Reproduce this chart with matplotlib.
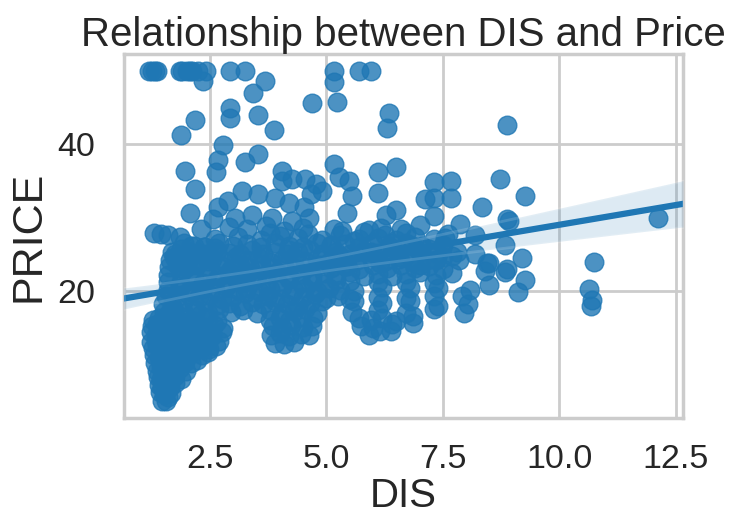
import numpy as np
import matplotlib
matplotlib.use("Agg")
import matplotlib.pyplot as plt

# ---- data: weighted distance to employment centres (DIS) vs. median price ----
# tracts at the 50.0 price cap
dis_capped = [1.20, 1.25, 1.32, 1.37, 1.85, 1.90, 2.00, 2.07, 2.12, 2.25, 2.42,
              2.93, 3.25, 5.16, 5.70, 5.95]
price_capped = [50.0] * 16

# low-distance, low-price tracts
dis_inner = [1.47, 1.55, 1.60,
             1.43, 1.51, 1.58, 1.66,
             1.40, 1.48, 1.57, 1.65, 1.75,
             1.38, 1.46, 1.55, 1.64, 1.75, 1.87,
             1.36, 1.44, 1.53, 1.62, 1.72, 1.85, 1.99,
             1.33, 1.42, 1.50, 1.60, 1.70, 1.82, 1.96, 2.10, 2.22,
             1.30, 1.40, 1.50, 1.60, 1.72, 1.85, 2.00, 2.15, 2.32, 2.45,
             1.27, 1.37, 1.48, 1.58, 1.70, 1.84, 1.98, 2.14, 2.30, 2.48, 2.62,
             1.24, 1.35, 1.46, 1.58, 1.70, 1.84, 2.00, 2.16, 2.34, 2.52, 2.70,
             1.23, 1.34, 1.46, 1.58, 1.72, 1.86, 2.02, 2.18, 2.36, 2.55, 2.75,
             1.25, 1.36, 1.48, 1.60, 1.74, 1.88, 2.04, 2.20, 2.38, 2.58, 2.78,
             1.28, 1.40, 1.52, 1.66, 1.80, 1.95, 2.10, 2.28, 2.46, 2.65,
             1.52, 1.62, 1.70, 1.58, 1.92, 1.66, 1.90, 2.20, 1.64, 1.92]
price_inner = [5.0, 5.0, 5.6,
               6.3, 6.0, 6.6, 6.2,
               7.2, 7.0, 7.4, 7.0, 7.5,
               8.3, 8.0, 8.5, 8.1, 8.4, 8.0,
               9.1, 9.5, 8.8, 9.3, 9.0, 9.6, 9.2,
               10.2, 10.5, 10.0, 10.4, 10.2, 10.8, 10.4, 10.2, 10.6,
               11.3, 11.0, 11.7, 11.3, 11.0, 11.5, 11.2, 11.8, 11.3, 11.7,
               12.3, 12.7, 12.0, 12.5, 12.1, 12.6, 12.2, 12.7, 12.3, 12.1, 12.6,
               13.1, 13.4, 13.0, 13.6, 13.2, 13.8, 13.1, 13.5, 13.3, 13.8, 13.2,
               14.4, 14.1, 14.6, 14.0, 14.5, 14.2, 14.8, 14.3, 14.6, 14.1, 14.5,
               15.2, 15.6, 15.1, 15.4, 15.0, 15.6, 15.2, 15.7, 15.1, 15.4, 15.0,
               16.1, 16.4, 16.0, 16.6, 16.2, 16.5, 16.1, 16.7, 16.3, 16.0,
               7.8, 8.8, 9.6, 10.9, 11.0, 12.3, 12.0, 12.4, 13.0, 13.5]

# low-distance tracts in the mid-price range
dis_inner_mid = [1.72, 1.88, 2.02, 2.15, 2.30, 2.45, 1.80, 1.95, 2.08, 2.22, 2.38,
                 2.50, 1.68, 2.60, 2.00]
price_inner_mid = [24.6, 25.8, 24.3, 26.2, 25.0, 24.1, 23.6, 26.5, 25.4, 23.9,
                   26.0, 24.8, 25.4, 25.9, 23.3]

# mid-distance low-price pockets
dis_pockets = [3.90, 4.10, 4.30, 3.82, 4.00, 4.20, 4.45, 4.62, 3.85, 4.05, 4.25,
               4.50, 4.70, 3.80, 4.00, 4.20, 4.45, 4.72,
               5.92, 6.15, 6.39, 5.75, 6.00, 6.40, 6.85, 5.70, 5.95, 6.20, 6.50,
               6.85]
price_pockets = [13.0, 12.8, 13.1, 14.0, 14.3, 13.9, 14.2, 14.1, 15.2, 15.0, 15.4,
                 15.1, 15.3, 16.1, 16.4, 16.0, 16.5, 16.4,
                 14.1, 14.6, 14.6, 15.2, 15.0, 15.5, 15.7, 16.4, 16.1, 16.3, 16.0,
                 16.6]

# main band of tracts, prices roughly 17 to 28
dis_core = [
    1.52, 1.62, 1.72, 1.95, 2.20, 2.45, 2.70, 2.95, 3.20, 3.50, 3.80, 4.05, 4.30,
    4.55, 4.80, 5.55, 6.10, 6.70, 7.30, 7.95,
    1.50, 1.68, 1.92, 2.16, 2.40, 2.65, 2.90, 3.15, 3.40, 3.65, 3.90, 4.15, 4.40,
    4.65, 4.90, 5.60, 6.20, 6.80, 7.40, 8.05, 10.67,
    1.55, 1.78, 2.02, 2.26, 2.50, 2.75, 3.00, 3.25, 3.50, 3.75, 4.00, 4.25, 4.50,
    4.75, 5.00, 5.25, 5.50, 6.10, 6.70, 7.30, 7.90, 10.70,
    1.60, 1.85, 2.10, 2.35, 2.60, 2.85, 3.10, 3.30, 3.55, 3.80, 4.05, 4.30, 4.55,
    4.80, 5.05, 5.30, 5.60, 6.20, 6.80, 7.40, 8.08, 9.12, 10.63,
    1.60, 1.85, 2.10, 2.35, 2.60, 2.86, 3.05, 3.25, 3.45, 3.70, 3.95, 4.20, 4.45,
    4.70, 4.95, 5.20, 5.50, 6.10, 6.70, 7.30, 8.50, 9.27,
    1.60, 1.88, 2.16, 2.44, 2.70, 2.92, 3.12, 3.32, 3.52, 3.72, 3.95, 4.20, 4.45,
    4.70, 4.95, 5.20, 5.50, 5.80, 6.10, 6.40, 6.70, 7.00, 7.35, 7.70, 8.40, 8.83,
    1.62, 1.92, 2.22, 2.50, 2.75, 2.95, 3.15, 3.35, 3.60, 3.85, 4.10, 4.35, 4.60,
    4.85, 5.10, 5.40, 5.70, 6.00, 6.30, 6.60, 6.90, 7.20, 7.50, 8.45, 8.87,
    1.65, 1.95, 2.25, 2.55, 2.80, 3.05, 3.30, 3.55, 3.80, 4.05, 4.30, 4.55, 4.80,
    5.05, 5.35, 5.65, 5.95, 6.25, 6.55, 6.85, 7.15, 7.50, 7.85, 8.50, 9.19, 10.74,
    1.75, 2.05, 2.35, 2.65, 2.90, 3.15, 3.40, 3.65, 3.90, 4.15, 4.40, 4.65, 4.90,
    5.20, 5.50, 5.80, 6.10, 6.40, 6.70, 7.00, 7.40, 7.80, 8.20,
    2.10, 2.40, 2.70, 3.00, 3.30, 3.60, 3.90, 4.20, 4.50, 4.80, 5.10, 5.40, 5.70,
    6.00, 6.35, 6.70, 7.05, 7.50, 8.83,
    2.60, 3.10, 3.60, 4.00, 4.40, 4.90, 5.30, 5.70, 6.10, 6.50, 6.90, 7.30,
    5.25, 5.60, 5.95, 6.25, 6.55, 6.85, 7.20, 7.55, 5.45, 6.15, 6.70, 7.00, 7.70,
    5.80, 6.40, 7.35, 5.10, 4.60, 4.20, 3.80]
price_core = [
    17.2, 17.0, 17.5, 17.1, 17.4, 17.0, 17.6, 17.2, 17.5, 17.1, 17.4, 17.0, 17.3,
    17.6, 17.1, 17.2, 17.4, 17.0, 17.6, 17.1,
    18.3, 18.0, 18.5, 18.2, 18.6, 18.1, 18.4, 18.0, 18.5, 18.2, 18.6, 18.3, 18.0,
    18.4, 18.7, 18.6, 18.4, 18.7, 18.0, 18.2, 18.0,
    19.4, 19.1, 19.6, 19.2, 19.5, 19.0, 19.3, 19.7, 19.1, 19.4, 19.0, 19.5, 19.2,
    19.6, 19.1, 19.4, 19.0, 19.2, 19.1, 19.3, 19.4, 18.8,
    20.2, 20.5, 20.0, 20.4, 20.1, 20.6, 20.2, 20.5, 20.0, 20.3, 20.6, 20.1, 20.4,
    20.0, 20.5, 20.2, 20.0, 20.6, 20.5, 20.4, 20.1, 19.9, 20.3,
    21.3, 21.0, 21.5, 21.1, 21.4, 21.0, 21.6, 21.2, 21.5, 21.0, 21.3, 21.6, 21.1,
    21.4, 21.0, 21.5, 21.4, 21.3, 21.2, 21.1, 20.9, 21.5,
    22.2, 22.5, 22.0, 22.4, 22.1, 22.6, 22.2, 22.5, 22.0, 22.3, 22.6, 22.1, 22.4,
    22.0, 22.5, 22.2, 22.6, 22.1, 22.4, 22.0, 22.3, 22.6, 22.2, 22.5, 22.8, 22.6,
    23.3, 23.0, 23.5, 23.1, 23.4, 23.0, 23.6, 23.2, 23.5, 23.1, 23.4, 23.0, 23.3,
    23.6, 23.1, 23.4, 23.0, 23.5, 23.2, 23.6, 23.1, 23.4, 23.0, 23.8, 23.0,
    24.2, 24.5, 24.0, 24.4, 24.1, 24.6, 24.2, 24.5, 24.0, 24.3, 24.6, 24.1, 24.4,
    24.0, 24.5, 24.2, 24.6, 24.1, 24.4, 24.0, 24.3, 24.6, 24.2, 23.8, 24.5, 24.0,
    25.1, 25.4, 25.0, 25.5, 25.2, 25.0, 25.6, 25.1, 25.4, 25.0, 25.3, 25.6, 25.1,
    25.4, 25.0, 25.5, 25.2, 25.6, 25.0, 25.3, 25.1, 25.4, 25.0,
    26.2, 26.0, 26.5, 26.1, 26.4, 26.0, 26.6, 26.2, 26.0, 26.5, 26.1, 26.4, 26.0,
    26.6, 26.2, 26.5, 26.1, 26.3, 26.3,
    27.1, 27.4, 27.0, 27.5, 27.2, 27.0, 27.6, 27.1, 27.3, 27.0, 27.4, 27.1,
    24.9, 26.8, 25.3, 27.6, 24.6, 26.2, 25.7, 27.2, 23.4, 23.8, 27.9, 23.6, 24.8,
    28.0, 26.5, 24.2, 26.3, 27.8, 25.6, 27.9]

# higher-priced tracts scattered above the main band
dis_upper = [2.35, 3.69, 3.43, 4.69, 2.93, 2.93, 3.54, 3.87, 2.17, 1.89, 2.79,
             2.68, 2.64, 3.54, 3.25, 1.96, 2.17, 2.07, 4.05, 4.26, 4.55, 4.77,
             2.57, 4.62, 1.31, 1.45, 1.60, 1.85,
             5.16, 5.23, 6.35, 6.31, 8.87, 5.16, 6.10, 6.49, 4.90, 5.27, 5.49,
             5.56, 6.10, 5.45, 6.49, 6.28, 7.11, 7.32, 7.68, 7.32, 7.68, 7.32,
             8.73, 8.33, 7.86, 8.87, 5.16, 5.33, 5.92, 6.17, 9.27, 8.91, 12.11,
             2.89, 3.18, 3.54, 3.90, 4.19, 4.51, 3.04, 3.40, 3.83, 4.26, 2.68,
             4.66, 4.05, 2.90, 3.30, 3.70, 4.10, 4.50, 6.60, 7.00, 2.30, 8.20,
             7.60]
price_upper = [48.6, 48.6, 47.0, 45.6, 44.9, 43.5, 44.0, 41.9, 43.3, 41.2, 39.9,
               37.8, 36.2, 38.7, 37.6, 36.4, 33.9, 30.7, 36.4, 35.3, 35.3, 34.6,
               29.8, 30.0, 27.9, 27.8, 27.7, 27.4,
               48.4, 45.8, 44.2, 42.2, 42.6, 37.3, 36.2, 36.9, 33.7, 35.5, 35.0,
               33.0, 33.4, 30.7, 31.1, 30.4, 32.5, 34.8, 35.0, 32.7, 32.7, 30.2,
               35.3, 31.4, 29.1, 29.8, 28.4, 28.2, 28.3, 28.6, 33.0, 29.5, 30.0,
               32.3, 33.7, 33.2, 32.7, 32.0, 31.4, 30.0, 30.4, 30.0, 29.5, 31.4,
               33.2, 35.0, 28.7, 28.5, 28.9, 28.2, 28.6, 28.4, 29.0, 28.5, 27.6,
               27.8]

x_ticks = [2.5, 5.0, 7.5, 10.0, 12.5]
x_tick_labels = ["2.5", "5.0", "7.5", "10.0", "12.5"]
y_ticks = [20, 40]

dis = np.array(dis_capped + dis_inner + dis_inner_mid + dis_pockets + dis_core
               + dis_upper)
price = np.array(price_capped + price_inner + price_inner_mid + price_pockets
                 + price_core + price_upper)

# ---- style ----
TEXT = "#262626"
GRID = "#cccccc"
BLUE = "#1f77b4"
plt.rcParams["font.family"] = ["Liberation Sans", "DejaVu Sans"]
plt.rcParams["text.color"] = TEXT
plt.rcParams["axes.labelcolor"] = TEXT
plt.rcParams["xtick.color"] = TEXT
plt.rcParams["ytick.color"] = TEXT

fig = plt.figure(figsize=(7.29, 5.16), dpi=100)
ax = fig.add_axes([0.170, 0.190, 0.767, 0.705])
ax.set_axisbelow(True)
ax.grid(True, color=GRID, linewidth=2.0)
for sp in ax.spines.values():
    sp.set_color(GRID)
    sp.set_linewidth(2.5)

ax.scatter(dis, price, s=180, color=BLUE, alpha=0.8, linewidths=1.0, zorder=2)

# ordinary least squares fit with a 95% confidence band over the full x range
xlo, xhi = ax.get_xlim()
grid_x = np.linspace(xlo, xhi, 100)
n = len(dis)
slope, intercept = np.polyfit(dis, price, 1)
fit = intercept + slope * grid_x
resid = price - (intercept + slope * dis)
s_err = np.sqrt(np.sum(resid ** 2) / (n - 2))
sxx = np.sum((dis - dis.mean()) ** 2)
half = 1.96 * s_err * np.sqrt(1.0 / n + (grid_x - dis.mean()) ** 2 / sxx)
ax.plot(grid_x, fit, color=BLUE, linewidth=4.5, zorder=3)
ax.fill_between(grid_x, fit - half, fit + half, facecolor=BLUE, edgecolor="white",
                linewidth=2.0, alpha=0.15, zorder=3)
ax.set_xlim(xlo, xhi)

ax.set_xticks(x_ticks)
ax.set_xticklabels(x_tick_labels)
ax.set_yticks(y_ticks)
ax.tick_params(axis="both", length=0, labelsize=24.5)
ax.tick_params(axis="x", pad=19)
ax.tick_params(axis="y", pad=21)

ax.set_xlabel("DIS", fontsize=29, labelpad=1)
ax.set_ylabel("PRICE", fontsize=31, labelpad=6)
ax.set_title("Relationship between DIS and Price", fontsize=29, pad=3)

fig.savefig("out.png", dpi=100)
